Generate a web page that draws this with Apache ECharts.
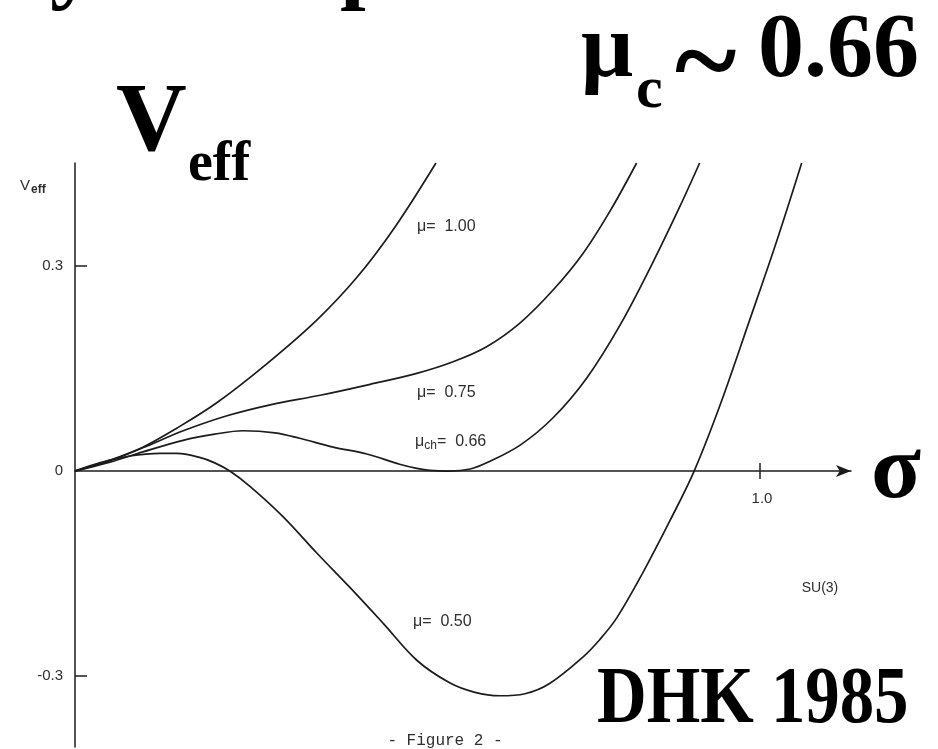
<!DOCTYPE html>
<html>
<head>
<meta charset="utf-8">
<style>html,body{margin:0;padding:0;background:#fff}#c{width:938px;height:749px}</style>
<script src="https://cdn.jsdelivr.net/npm/echarts@6/dist/echarts.min.js"></script>
</head>
<body>
<div id="c"></div>
<script>
// sigma, V_eff pairs
const mu100 = [[0,0],[0.051,0.016],[0.099,0.035],[0.149,0.063],[0.207,0.100],[0.280,0.157],[0.353,0.221],[0.412,0.284],[0.467,0.357],[0.527,0.451]];
const mu075 = [[0,0],[0.051,0.015],[0.099,0.034],[0.158,0.059],[0.222,0.081],[0.285,0.097],[0.358,0.111],[0.431,0.127],[0.499,0.143],[0.552,0.160],[0.601,0.182],[0.650,0.217],[0.698,0.265],[0.742,0.319],[0.782,0.382],[0.820,0.451]];
const mu066 = [[0,0],[0.051,0.013],[0.099,0.028],[0.158,0.045],[0.204,0.054],[0.245,0.059],[0.292,0.056],[0.328,0.048],[0.377,0.035],[0.426,0.025],[0.474,0.010],[0.499,0.004],[0.518,0.001],[0.547,0.000],[0.577,0.003],[0.601,0.012],[0.650,0.038],[0.698,0.078],[0.747,0.136],[0.796,0.214],[0.844,0.306],[0.883,0.387],[0.912,0.451]];
const mu050 = [[0,0],[0.036,0.012],[0.080,0.022],[0.124,0.026],[0.149,0.026],[0.182,0.020],[0.204,0.012],[0.226,0.000],[0.255,-0.022],[0.304,-0.067],[0.353,-0.120],[0.401,-0.170],[0.450,-0.223],[0.499,-0.277],[0.547,-0.310],[0.584,-0.324],[0.620,-0.329],[0.657,-0.326],[0.693,-0.311],[0.742,-0.272],[0.766,-0.247],[0.791,-0.215],[0.829,-0.149],[0.869,-0.072],[0.904,0.000],[0.942,0.097],[0.985,0.221],[1.023,0.332],[1.061,0.451]];
const yTicks = [-0.3, 0.3];
const yLabels = [-0.3, 0, 0.3];
const xTicks = [1.0];

const INK = '#1c1c1c';
const TXT = '#2e2e2e';
const SMALL = '"Liberation Sans", Arial, sans-serif';
const BIG = '"Liberation Serif", "Times New Roman", serif';

function curve(name, data) {
  return { name, type: 'line', data, showSymbol: false, smooth: 0.35, clip: true,
    lineStyle: { color: INK, width: 1.7 }, silent: true };
}
// big text helper: y given roughly as the alphabetic baseline
function big(text, x, base, size, extra) {
  return Object.assign({ type: 'text', x: x, y: base - 0.26 * size,
    style: { text: text, font: 'bold ' + size + 'px ' + BIG, fill: '#000', verticalAlign: 'middle' } }, extra || {});
}

const chart = echarts.init(document.getElementById('c'), null, { renderer: 'canvas' });
chart.setOption({
  animation: false,
  backgroundColor: '#fff',
  grid: { left: 75, top: 163, right: 87, bottom: 2, containLabel: false, outerBoundsMode: 'none' },
  xAxis: [
    { type: 'value', min: 0, max: 1.133, position: 'bottom',
      axisLine: { onZero: true, onZeroAxisIndex: 0, symbol: ['none', 'arrow'], symbolSize: [9, 15], lineStyle: { color: INK, width: 1.5 } },
      axisTick: { show: true, customValues: xTicks, length: 8, lineStyle: { color: INK, width: 1.5 } },
      axisLabel: { show: false },
      splitLine: { show: false } },
    { type: 'value', min: 0, max: 1.133, position: 'top',
      axisLine: { show: false, onZero: true, onZeroAxisIndex: 0 },
      axisTick: { show: true, customValues: xTicks, length: 8, lineStyle: { color: INK, width: 1.5 } },
      axisLabel: { show: false }, splitLine: { show: false } }
  ],
  yAxis: {
    type: 'value', min: -0.404, max: 0.451,
    axisLine: { show: true, onZero: false, lineStyle: { color: INK, width: 1.5 } },
    axisTick: { show: true, inside: true, customValues: yTicks, length: 12, lineStyle: { color: INK, width: 1.5 } },
    axisLabel: { show: true, customValues: yLabels, formatter: v => (v === 0 ? '0' : v.toFixed(1)), margin: 12, color: TXT, fontFamily: SMALL, fontSize: 15 },
    splitLine: { show: false }
  },
  series: [curve('mu=1.00', mu100), curve('mu=0.75', mu075), curve('mu=0.66', mu066), curve('mu=0.50', mu050)],
  graphic: [
    // partial title line cut by the top edge
    big('y', 50, -8, 92),
    big('p', 340, -8, 92),
    // big annotations
    big('μ', 581, 76, 92),
    big('c', 636, 107, 60),
    { type: 'text', x: 675, y: 70, style: { text: '~', font: 'bold 118px ' + BIG, fill: '#000', verticalAlign: 'middle' } },
    { type: 'text', x: 919, y: 76 - 0.26 * 92, style: { text: '0.66', font: 'bold 92px ' + BIG, fill: '#000', align: 'right', verticalAlign: 'middle' } },
    big('V', 116, 150, 98),
    big('eff', 188, 180, 56),
    big('σ', 871, 497, 92),
    big('DHK 1985', 597, 722, 80, { scaleX: 0.86 }),
    // small figure texts
    { type: 'text', x: 762, y: 499, style: { text: xTicks[0].toFixed(1), font: '15px ' + SMALL, fill: TXT, align: 'center', verticalAlign: 'middle' } },
    { type: 'text', x: 20, y: 186, style: { text: '{v|V}{s|eff}', fill: TXT, verticalAlign: 'middle',
      rich: { v: { fontSize: 15, fontFamily: SMALL, fill: TXT }, s: { fontSize: 12, fontWeight: 'bold', fontFamily: SMALL, fill: TXT, padding: [7, 0, 0, 1] } } } },
    { type: 'text', x: 417, y: 227, style: { text: 'μ=  1.00', font: '16px ' + SMALL, fill: TXT, verticalAlign: 'middle' } },
    { type: 'text', x: 417, y: 393, style: { text: 'μ=  0.75', font: '16px ' + SMALL, fill: TXT, verticalAlign: 'middle' } },
    { type: 'text', x: 415, y: 442, style: { text: '{m|μ}{s|ch}{m|=  0.66}', fill: TXT, verticalAlign: 'middle',
      rich: { m: { fontSize: 16, fontFamily: SMALL, fill: TXT }, s: { fontSize: 12, fontFamily: SMALL, fill: TXT, padding: [8, 0, 0, 0] } } } },
    { type: 'text', x: 413, y: 622, style: { text: 'μ=  0.50', font: '16px ' + SMALL, fill: TXT, verticalAlign: 'middle' } },
    { type: 'text', x: 820, y: 588, style: { text: 'SU(3)', font: '14px "Liberation Sans Narrow", ' + SMALL, fill: TXT, align: 'center', verticalAlign: 'middle' } },
    { type: 'text', x: 445, y: 741, style: { text: '- Figure 2 -', font: '16px "Liberation Mono", "DejaVu Sans Mono", monospace', fill: TXT, align: 'center', verticalAlign: 'middle' } }
  ]
});
</script>
</body>
</html>
